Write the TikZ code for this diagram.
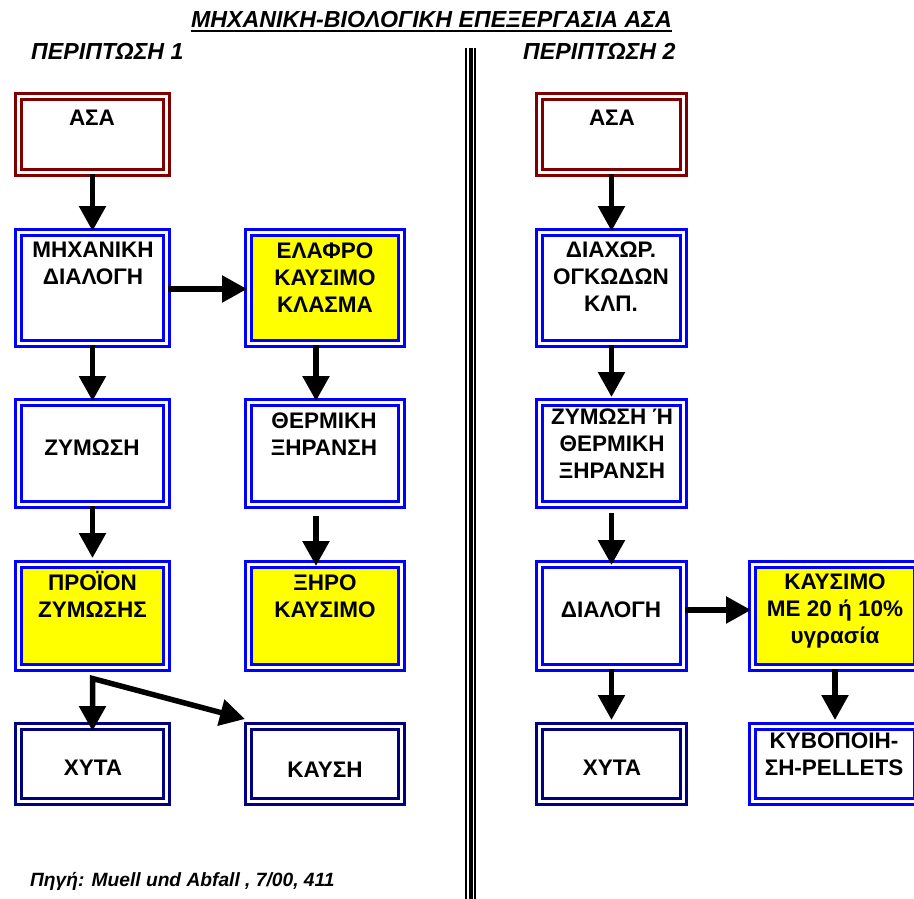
\documentclass[tikz,border=0pt]{standalone}
\usepackage{fontspec}
\setmainfont{Liberation Sans}
\usetikzlibrary{arrows.meta}

\definecolor{boxred}{RGB}{128,0,0}
\definecolor{boxblue}{RGB}{0,0,255}
\definecolor{boxnavy}{RGB}{0,0,128}
\definecolor{fuel}{RGB}{255,255,0}

\tikzset{
  stage/.style={draw=#1, line width=3pt, double=white, double distance=3pt, inner sep=0pt},
  redbox/.style={stage=boxred},
  bluebox/.style={stage=boxblue},
  navybox/.style={stage=boxnavy},
  fuelbox/.style={stage=boxblue, fill=fuel},
  % base anchor = baseline of the last line
  lbl/.style={font=\fontsize{22.5}{26.7}\selectfont\bfseries, align=center, anchor=base, inner sep=0pt},
  heading/.style={font=\fontsize{23.2}{26}\selectfont\bfseries\itshape, inner sep=0pt},
  arr/.style={line width=5.5pt, -{Triangle[width=26pt,length=25pt]}},
  arrtwo/.style={line width=5.5pt, line join=miter, {Triangle[width=26pt,length=25pt]}-{Triangle[width=26pt,length=25pt]}}
}

\begin{document}
\begin{tikzpicture}[x=1pt, y=-1pt]
    \useasboundingbox (0,0) rectangle (914,899);

    % headings
    \node[heading, anchor=base] (title) at (431.5,28) {ΜΗΧΑΝΙΚΗ-ΒΙΟΛΟΓΙΚΗ ΕΠΕΞΕΡΓΑΣΙΑ ΑΣΑ};
    \draw[line width=2pt] ([yshift=-3.5pt]title.base west) -- ([yshift=-3.5pt]title.base east);
    \node[heading, anchor=base west] (case1) at (31,60) {ΠΕΡΙΠΤΩΣΗ 1};
    \node[heading, anchor=base west] (case2) at (523,60) {ΠΕΡΙΠΤΩΣΗ 2};
    \node[heading, font=\fontsize{19.2}{21}\selectfont\bfseries\itshape, anchor=base west] (source) at (30,886) {Πηγή: Muell und Abfall , 7/00, 411};

    % divider
    \draw[line width=1.5pt] (465.8,48) -- (465.8,899);
    \draw[line width=4.5pt] (471,48) -- (471,899);
    \draw[line width=1.5pt] (475.2,48) -- (475.2,899);

    % case 1
    \node[redbox, minimum width=148pt, minimum height=76pt] (asaL) at (92.5,134.5) {};
    \node[bluebox, minimum width=148pt, minimum height=111pt] (mechL) at (92.5,288) {};
    \node[fuelbox, minimum width=153pt, minimum height=111pt] (elafro) at (325,288) {};
    \node[bluebox, minimum width=148pt, minimum height=102pt] (zymL) at (92.5,453.5) {};
    \node[bluebox, minimum width=153pt, minimum height=102pt] (therm) at (325,453.5) {};
    \node[fuelbox, minimum width=148pt, minimum height=103pt] (proion) at (92.5,616) {};
    \node[fuelbox, minimum width=153pt, minimum height=103pt] (xiro) at (325,616) {};
    \node[navybox, minimum width=148pt, minimum height=75pt] (xytaL) at (92.5,764) {};
    \node[navybox, minimum width=153pt, minimum height=75pt] (kaysi) at (325,764) {};

    \node[lbl] (asaLt) at (92,125) {ΑΣΑ};
    \node[lbl] (mechLt) at (93,284) {ΜΗΧΑΝΙΚΗ\\ΔΙΑΛΟΓΗ};
    \node[lbl] (elafrot) at (325,312) {ΕΛΑΦΡΟ\\ΚΑΥΣΙΜΟ\\ΚΛΑΣΜΑ};
    \node[lbl] (zymLt) at (92,455) {ΖΥΜΩΣΗ};
    \node[lbl] (thermt) at (324,455) {ΘΕΡΜΙΚΗ\\ΞΗΡΑΝΣΗ};
    \node[lbl] (proiont) at (92.5,617) {ΠΡΟΪΟΝ\\ΖΥΜΩΣΗΣ};
    \node[lbl] (xirot) at (325,617) {ΞΗΡΟ\\ΚΑΥΣΙΜΟ};
    \node[lbl] (xytaLt) at (93,775) {ΧΥΤΑ};
    \node[lbl] (kaysit) at (325,777) {ΚΑΥΣΗ};

    \draw[arr] (asaL.south) -- (mechL.north);
    \draw[arr] ([yshift=-1pt]mechL.east) -- ([yshift=-1pt]elafro.west);
    \draw[arr] (mechL.south) -- (zymL.north);
    \draw[arr] ([xshift=-9pt]elafro.south) -- ([xshift=-9pt]therm.north);
    \draw[arr] (zymL.south) -- ([yshift=5pt]proion.north);
    \draw[arr] ([xshift=-9pt,yshift=-10pt]therm.south) -- ([xshift=-9pt,yshift=-3pt]xiro.north);
    \coordinate (split) at ([yshift=-9.5pt]proion.south);
    \draw[arrtwo] ([yshift=-6pt]xytaL.north) -- (split) -- ([xshift=-2pt,yshift=6pt]kaysi.north west);

    % case 2
    \node[redbox, minimum width=144pt, minimum height=76pt] (asaR) at (611.5,134.5) {};
    \node[bluebox, minimum width=144pt, minimum height=111pt] (diax) at (611.5,288) {};
    \node[bluebox, minimum width=144pt, minimum height=102pt] (zymR) at (611.5,453.5) {};
    \node[bluebox, minimum width=144pt, minimum height=103pt] (dialR) at (611.5,616) {};
    \node[fuelbox, minimum width=165pt, minimum height=103pt] (kaysimR) at (835,616) {};
    \node[navybox, minimum width=144pt, minimum height=75pt] (xytaR) at (611.5,764) {};
    \node[bluebox, minimum width=165pt, minimum height=75pt] (kybR) at (835,764) {};

    \node[lbl] (asaRt) at (612,125) {ΑΣΑ};
    \node[lbl] (diaxt) at (611,311) {ΔΙΑΧΩΡ.\\ΟΓΚΩΔΩΝ\\ΚΛΠ.};
    \node[lbl] (zymRt) at (612,478) {ΖΥΜΩΣΗ Ή\\ΘΕΡΜΙΚΗ\\ΞΗΡΑΝΣΗ};
    \node[lbl] (dialRt) at (611,617) {ΔΙΑΛΟΓΗ};
    \node[lbl] (xytaRt) at (612,775) {ΧΥΤΑ};
    \node[lbl] (kaysimt) at (835,643) {ΚΑΥΣΙΜΟ\\ΜΕ 20 ή 10\%\\υγρασία};
    \node[lbl] (kybt) at (834,775) {ΚΥΒΟΠΟΙΗ-\\ΣΗ-PELLETS};

    \draw[arr] (asaR.south) -- (diax.north);
    \draw[arr] (diax.south) -- ([yshift=4pt]zymR.north);
    \draw[arr] ([yshift=-7pt]zymR.south) -- ([yshift=-2pt]dialR.north);
    \draw[arr] ([yshift=6pt]dialR.east) -- ([yshift=6pt]kaysimR.west);
    \draw[arr] (dialR.south) -- ([yshift=5pt]xytaR.north);
    \draw[arr] (kaysimR.south) -- ([yshift=5pt]kybR.north);
\end{tikzpicture}
\end{document}
